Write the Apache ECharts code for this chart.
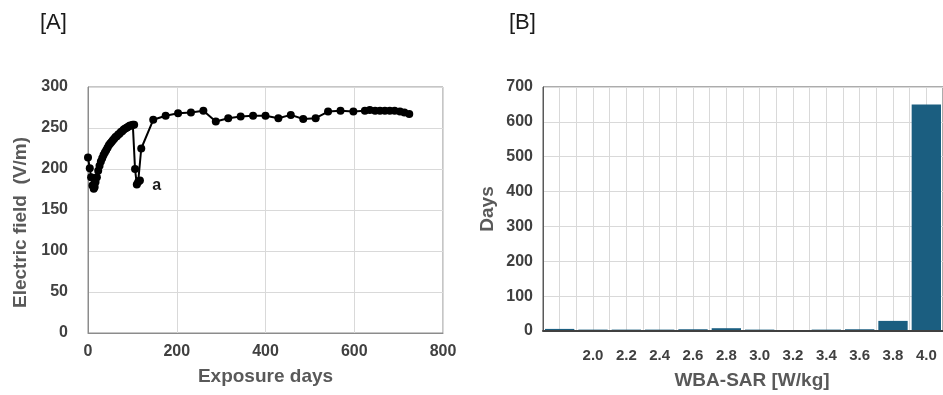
<!DOCTYPE html>
<html>
<head>
<meta charset="utf-8">
<script src="https://cdn.jsdelivr.net/npm/echarts@6/dist/echarts.min.js"></script>
<style>
  html, body { margin: 0; padding: 0; background: #fff; }
  #chart { width: 943px; height: 395px; }
</style>
</head>
<body>
<div id="chart"></div>
<script>
// [A] electric field over exposure days
var fieldDays = [0, 4, 7, 10, 13, 15, 17, 20, 23, 26, 29, 32, 35, 38, 41, 44, 47, 50, 53, 56, 59, 62, 65, 68, 71, 74, 77, 80, 83, 86, 89, 92, 95, 98, 101, 104,
  106, 110, 113, 117, 120, 147, 175, 203, 232, 260, 288, 316, 344, 372, 400, 429, 457, 485, 513, 541, 569, 598,
  624, 635, 647, 658, 669, 680, 691, 703, 713, 724]
var fieldValues = [214, 201, 190, 180, 176, 178, 184, 190, 198, 204, 209, 213, 217, 220, 223, 226, 229, 231, 233, 235, 237, 239, 240, 242, 243, 245, 246, 248, 249, 250, 251, 252, 253, 253, 254, 254,
  200, 181, 184, 186, 225, 260, 265, 268, 269, 271, 258, 262, 264, 265, 265, 262, 266, 261, 262, 270, 271, 270,
  271, 272, 271, 271, 271, 271, 271, 270, 269, 267]
var fieldXTicks = {min: 0, max: 800, interval: 200}
var fieldYTicks = {min: 0, max: 300, interval: 50}

// [B] days per WBA-SAR bin
var sarBins = ['', '2.0', '2.2', '2.4', '2.6', '2.8', '3.0', '3.2', '3.4', '3.6', '3.8', '4.0']
var sarDays = [6, 4, 4, 4, 5, 8, 4, 0, 4, 5, 29, 650]
var sarYTicks = {min: 0, max: 700, interval: 100}

var font = '"Liberation Sans", Arial, sans-serif'
var tickLabel = {color: '#404040', fontWeight: 'bold', fontSize: 16, fontFamily: font}
var nameStyle = {color: '#595959', fontWeight: 'bold', fontSize: 19, fontFamily: font}
var gridLine = {lineStyle: {color: '#d9d9d9', width: 1}}

var myChart = echarts.init(document.getElementById('chart'), null, {renderer: 'canvas'})
myChart.setOption({
  animation: false,
  backgroundColor: '#fff',
  graphic: [
    {type: 'text', left: 40, top: 12, style: {text: '[A]', fontSize: 22, fontFamily: font, fill: '#1a1a1a'}},
    {type: 'text', left: 509, top: 12, style: {text: '[B]', fontSize: 22, fontFamily: font, fill: '#1a1a1a'}}
  ],
  grid: [
    {left: 88, top: 87, width: 355, height: 246, show: true, borderColor: '#8c8c8c', borderWidth: 1},
    {left: 543, top: 87, right: -2, height: 244, show: true, borderColor: '#595959', borderWidth: 1}
  ],
  xAxis: [
    {
      gridIndex: 0,
      type: 'value',
      min: fieldXTicks.min,
      max: fieldXTicks.max,
      interval: fieldXTicks.interval,
      name: 'Exposure days',
      nameLocation: 'middle',
      nameGap: 34,
      nameTextStyle: nameStyle,
      axisLine: {show: true, lineStyle: {color: '#8c8c8c'}},
      axisTick: {show: false},
      axisLabel: Object.assign({margin: 11}, tickLabel),
      splitLine: gridLine
    },
    {
      gridIndex: 1,
      type: 'category',
      data: sarBins,
      name: 'WBA-SAR [W/kg]',
      nameLocation: 'middle',
      nameGap: 40,
      nameTextStyle: Object.assign({padding: [0, 0, 0, 18]}, nameStyle),
      axisLine: {show: true, lineStyle: {color: '#404040', width: 2}},
      axisTick: {show: false},
      axisLabel: Object.assign({margin: 17, interval: 0}, tickLabel, {fontSize: 15}),
      splitLine: {show: false},
      z: 5
    },
    {
      // half-bin vertical gridlines
      gridIndex: 1,
      type: 'value',
      min: 0,
      max: sarBins.length * 2,
      interval: 1,
      position: 'top',
      axisLine: {show: false},
      axisTick: {show: false},
      axisLabel: {show: false},
      splitLine: gridLine
    }
  ],
  yAxis: [
    {
      gridIndex: 0,
      type: 'value',
      min: fieldYTicks.min,
      max: fieldYTicks.max,
      interval: fieldYTicks.interval,
      name: 'Electric field  (V/m)',
      nameLocation: 'middle',
      nameGap: 58,
      nameTextStyle: Object.assign({padding: [0, 25, 0, 0]}, nameStyle),
      axisLine: {show: true, lineStyle: {color: '#8c8c8c'}},
      axisTick: {show: false},
      axisLabel: Object.assign({margin: 20}, tickLabel),
      splitLine: gridLine
    },
    {
      gridIndex: 1,
      type: 'value',
      min: sarYTicks.min,
      max: sarYTicks.max,
      interval: sarYTicks.interval,
      name: 'Days',
      nameLocation: 'middle',
      nameGap: 46,
      nameTextStyle: nameStyle,
      axisLine: {show: true, lineStyle: {color: '#595959'}},
      axisTick: {show: false},
      axisLabel: Object.assign({margin: 10}, tickLabel),
      splitLine: gridLine
    }
  ],
  series: [
    {
      type: 'line',
      xAxisIndex: 0,
      yAxisIndex: 0,
      data: fieldDays.map(function (d, i) { return [d, fieldValues[i]] }),
      symbol: 'circle',
      symbolSize: 8,
      itemStyle: {color: '#000'},
      lineStyle: {color: '#000', width: 2},
      markPoint: {
        symbol: 'circle',
        symbolSize: 0,
        data: [{coord: [155, 180], value: 'a'}],
        label: {show: true, position: 'inside', formatter: 'a', color: '#1a1a1a', fontWeight: 'bold', fontSize: 16, fontFamily: font}
      }
    },
    {
      type: 'bar',
      xAxisIndex: 1,
      yAxisIndex: 1,
      data: sarDays,
      barCategoryGap: '12%',
      itemStyle: {color: '#1b5e80'}
    }
  ]
})
</script>
</body>
</html>
